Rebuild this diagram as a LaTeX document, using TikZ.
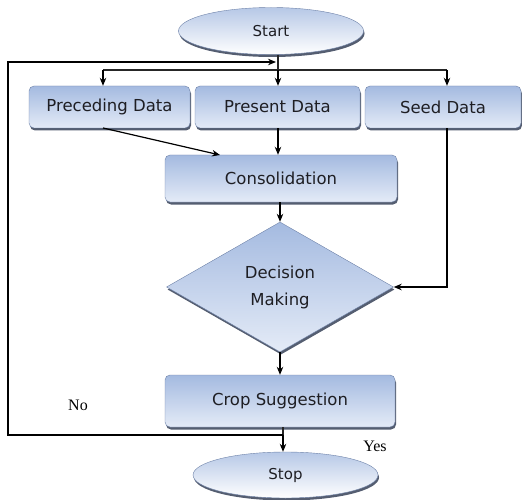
\documentclass[tikz,border=0pt]{standalone}
\usepackage{fontspec}
\setmainfont{DejaVu Sans}
\newfontfamily\serifnote{Liberation Serif}
\usetikzlibrary{shapes.geometric,shadows,arrows.meta}
\definecolor{boxtop}{RGB}{164,186,224}
\definecolor{boxbot}{RGB}{228,235,247}
\definecolor{boxline}{RGB}{110,130,168}
\definecolor{boxshade}{RGB}{55,66,88}
\definecolor{ink}{RGB}{30,30,35}
\tikzset{
  flowbox/.style={rectangle, rounded corners=5pt, draw=boxline, top color=boxtop, bottom color=boxbot,
    drop shadow={shadow xshift=1pt, shadow yshift=-2.5pt, fill=boxshade, opacity=.85},
    text=ink, font=\fontsize{16.5}{19}\selectfont, inner sep=0pt},
  terminal/.style={ellipse, draw=boxline, top color=boxtop!80, bottom color=white,
    drop shadow={shadow xshift=1pt, shadow yshift=-2.5pt, fill=boxshade, opacity=.85},
    text=ink, font=\fontsize{15}{17}\selectfont, inner sep=0pt},
  decide/.style={diamond, draw=boxline, top color=boxtop, bottom color=boxbot, aspect=1.75,
    drop shadow={shadow xshift=1pt, shadow yshift=-2.5pt, fill=boxshade, opacity=.85},
    text=ink, font=\fontsize{16.5}{27}\selectfont, align=center, inner sep=0pt},
  flow/.style={draw=black, line width=1.2pt, -{Stealth[length=8pt,width=6.5pt]}},
  wire/.style={draw=black!85, line width=1.2pt}
}
\begin{document}
\begin{tikzpicture}[x=1pt,y=-1pt]
  % pixel grid, origin top left
  \useasboundingbox (0,0) rectangle (522,500);
  \node[terminal, minimum width=185pt, minimum height=47pt] (start) at (271,31) {Start};
  \node[flowbox, minimum width=161pt, minimum height=42pt] (prec) at (109.5,107) {Preceding Data};
  \node[flowbox, minimum width=165pt, minimum height=42pt] (pres) at (277.5,107) {Present Data};
  \node[flowbox, minimum width=156pt, minimum height=42pt] (seed) at (443,107) {Seed Data};
  \node[flowbox, minimum width=232pt, minimum height=47pt] (cons) at (281,178.5) {Consolidation};
  \node[decide, minimum width=227pt, minimum height=130pt] (dec) at (280,287) {Decision\\Making};
  \node[flowbox, minimum width=230pt, minimum height=52pt] (crop) at (280,401) {Crop Suggestion};
  \node[terminal, minimum width=185pt, minimum height=46pt] (stop) at (285.5,475) {Stop};

  \coordinate (loopin) at (276,62);
  \coordinate (split) at (278,70);
  \coordinate (splitl) at (103,70);
  \coordinate (splitr) at (447,70);
  \coordinate (precout) at (103,128);
  \coordinate (consin) at (220,155);
  \coordinate (back) at (283,435);
  \coordinate (corner) at (8,435);

  % fan out to the three data sources
  \draw[wire] (start.south -| split) -- (split);
  \draw[wire] (splitl) -- (splitr);
  \draw[flow] (split) -- (pres.north -| split);
  \draw[flow] (splitl) -- (prec.north -| splitl);
  \draw[flow] (splitr) -- (seed.north -| splitr);

  \draw[flow] (precout) -- (consin);
  \draw[flow] (pres.south -| split) -- (cons.north -| split);
  \draw[flow] (seed.south -| splitr) |- (dec.east);
  \draw[flow] (cons.south -| dec.north) -- (dec.north);
  \draw[flow] (dec.south) -- (crop.north -| dec.south);

  % decision back to the start
  \draw[wire] (crop.south -| back) -- (back);
  \draw[flow] (back) -- (stop.north -| back);
  \draw[flow] (back) -- (corner) |- (loopin);

  \node[font=\serifnote\fontsize{16}{18}\selectfont] (no) at (78,405) {No};
  \node[font=\serifnote\fontsize{16}{18}\selectfont] (yes) at (375,446) {Yes};
\end{tikzpicture}
\end{document}
